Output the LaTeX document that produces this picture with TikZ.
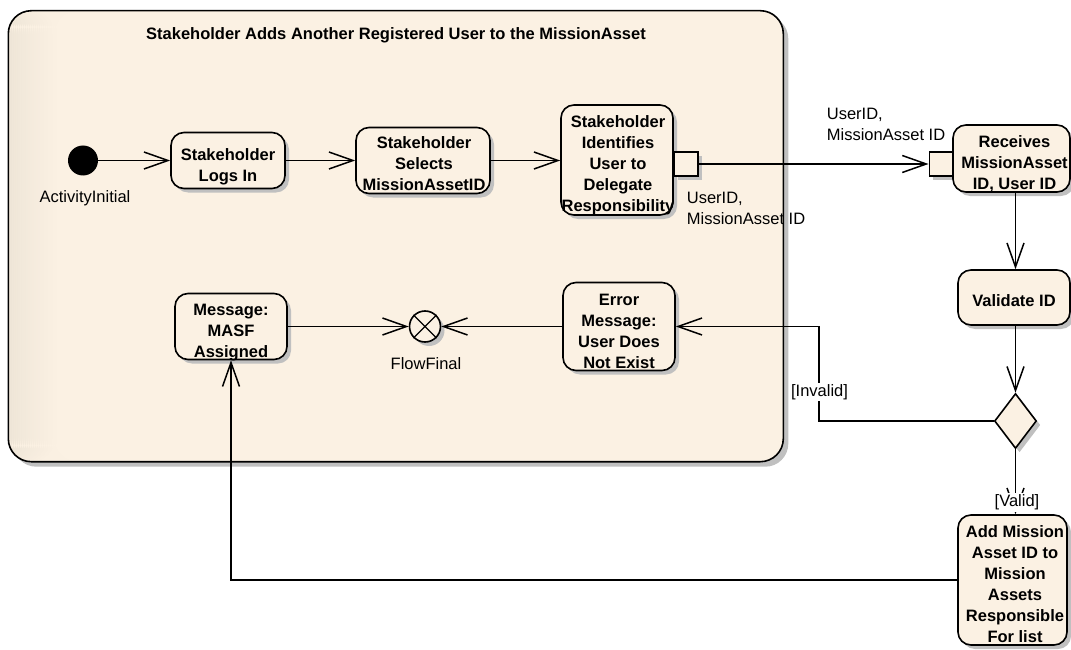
\documentclass[tikz,border=0pt]{standalone}
\usepackage{fontspec}
\setmainfont{Liberation Sans}
\usetikzlibrary{arrows.meta,shapes.geometric,shadows}

\definecolor{bg}{RGB}{251,241,227}
\definecolor{bgdark}{RGB}{238,229,215}
\definecolor{shadowgray}{RGB}{192,192,192}
\newcommand\fsz{\fontsize{16.5}{21}\selectfont}

% anchor=base on a multi-line node sits on the baseline of its last line
\tikzset{
  shadowed/.style={drop shadow={shadow xshift=4pt,shadow yshift=-4pt,fill=shadowgray,opacity=1}},
  frame/.style={draw,line width=1.6pt,rounded corners=23pt,fill=bg,inner sep=0pt,
    drop shadow={shadow xshift=5pt,shadow yshift=-5pt,fill=shadowgray,opacity=1},
    path picture={%
      % soft darker band along the left edge, built from thin strips
      \foreach \i in {0,...,23}{
        \pgfmathsetmacro\mix{100-\i*100/24}
        \fill[bgdark!\mix!bg]
          ([xshift=\i*2pt]path picture bounding box.north west) rectangle
          ([xshift=\i*2pt+2.2pt]path picture bounding box.south west);
      }}},
  act/.style={draw,line width=1.6pt,rounded corners=13pt,fill=bg,inner sep=0pt,shadowed},
  acttext/.style={font=\bfseries\fsz,align=center,anchor=base,inner sep=0pt},
  pinbox/.style={draw,line width=1.6pt,fill=bg,inner sep=0pt,minimum size=24pt,shadowed},
  note/.style={font=\fsz,inner sep=0pt,anchor=base},
  guard/.style={font=\fsz,inner sep=1.5pt,anchor=base,fill=white},
  flow/.style={line width=1.5pt,-{Straight Barb[length=24pt,width=17pt]}},
}

\begin{document}
\begin{tikzpicture}[x=1pt,y=-1pt]
\useasboundingbox (0,0) rectangle (1071,650);

% activity partition
\node[frame,minimum width=775pt,minimum height=451pt] (part) at (395.8,236.2) {};
\node[acttext] (title) at (396,40) {Stakeholder Adds Another Registered User to the MissionAsset};

% initial and final nodes
\node[circle,fill=black,minimum size=30pt,inner sep=0pt] (init) at (83,160.5) {};
\node[note] (init-l) at (85,202.3) {ActivityInitial};
\node[circle,draw,line width=1.6pt,fill=bg,minimum size=31pt,inner sep=0pt,shadowed] (ff) at (425,326.5) {};
\draw[line width=1.4pt] (ff.north east) -- (ff.south west) (ff.north west) -- (ff.south east);
\node[note] (ff-l) at (426,369.3) {FlowFinal};

% actions inside the partition
\node[act,minimum width=114pt,minimum height=56pt] (login) at (228,160.5) {};
\node[acttext] (login-t) at (228,181.7) {Stakeholder\\Logs In};

\node[act,minimum width=134pt,minimum height=66pt] (select) at (423,160.5) {};
\node[acttext] (select-t) at (424,190.3) {Stakeholder\\Selects\\MissionAssetID};

\node[act,minimum width=112pt,minimum height=110pt] (ident) at (617,160) {};
\node[acttext] (ident-t) at (618,211.3) {Stakeholder\\Identifies\\User to\\Delegate\\Responsibility};

\node[act,minimum width=112pt,minimum height=66pt] (msg) at (231,326.5) {};
\node[acttext] (msg-t) at (231,357) {Message:\\MASF\\Assigned};

\node[act,minimum width=112pt,minimum height=88pt] (err) at (619,326.5) {};
\node[acttext] (err-t) at (619,368) {Error\\Message:\\User Does\\Not Exist};

% output and input pins
\node[pinbox] (pout) at (686,164) {};
\node[note,anchor=base west,align=left] (pout-l) at (686.7,224.3) {UserID,\\MissionAsset ID};
\node[pinbox] (pin) at (941.3,164) {};
\node[note,anchor=base west,align=left] (pin-l) at (826.7,141) {UserID,\\MissionAsset ID};

% actions outside the partition
\node[act,minimum width=117pt,minimum height=67pt] (recv) at (1011.5,158.5) {};
\node[acttext] (recv-t) at (1014.5,189.3) {Receives\\MissionAsset\\ID, User ID};

\node[act,minimum width=112pt,minimum height=55pt] (valid) at (1014,297.5) {};
\node[acttext] (valid-t) at (1014,306.7) {Validate ID};

\node[diamond,draw,line width=1.6pt,fill=bg,minimum width=42pt,minimum height=55pt,inner sep=0pt,shadowed] (dec) at (1015.5,421) {};

\node[act,minimum width=109pt,minimum height=130pt] (addm) at (1012.5,580) {};
\node[acttext] (addm-t) at (1015,642.7) {Add Mission\\Asset ID to\\Mission\\Assets\\Responsible\\For list};

\coordinate (bend) at (819,421);

% control flows
\draw[flow] (init) -- (init -| login.west);
\draw[flow] (login.east) -- (login.east -| select.west);
\draw[flow] (select.east) -- (select.east -| ident.west);
\draw[flow] (pout.east) -- (pin.west);
\draw[flow] (recv.south -| dec.north) -- (valid.north -| dec.north);
\draw[flow] (valid.south -| dec.north) -- (dec.north);
\draw[flow] (dec.west) -- (bend) |- (err.east);
\draw[flow] (dec.south) -- (addm.north -| dec.south);
\draw[flow] (err.west) -- (ff);
\draw[flow] (msg.east) -- (ff);
\draw[flow] (addm.west) -| (msg.south);

% guards
\node[guard] (g-inv) at (819.5,396) {[Invalid]};
\node[guard] (g-val) at (1017,506.7) {[Valid]};
\end{tikzpicture}
\end{document}
